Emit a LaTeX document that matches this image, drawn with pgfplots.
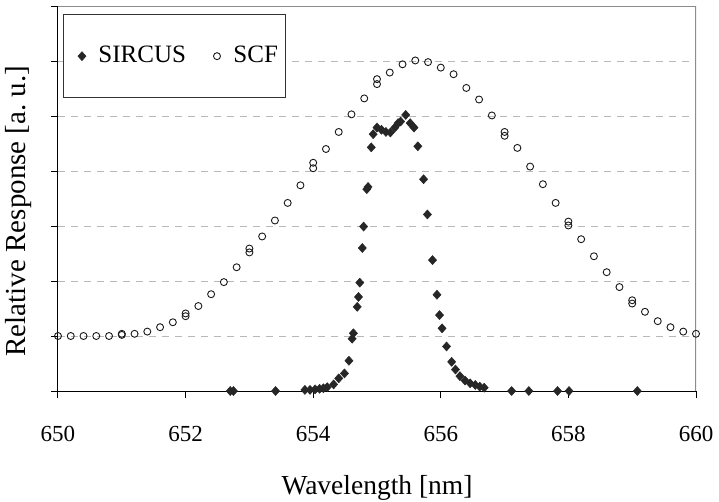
\documentclass[border=0pt]{standalone}
\usepackage{fontspec}
\setmainfont{Liberation Serif}
\usepackage{pgfplots}
\pgfplotsset{compat=1.18}
\begin{document}
\fontsize{24bp}{28bp}\selectfont
\begin{tikzpicture}
\useasboundingbox (-58bp,-111bp) rectangle (661bp,391bp);
\begin{axis}[
  at={(0,0)}, anchor=south west,
  width=638bp, height=385bp, scale only axis,
  xmin=650, xmax=660, ymin=0, ymax=7,
  xtick={650,652,...,660}, ytick={0,...,7}, yticklabels={},
  axis x line*=bottom, axis y line*=left,
  axis line style={-, black, line width=1bp},
  tick align=outside, major tick length=7bp,
  tick style={black, line width=1bp},
  /pgf/number format/assume math mode=true,
  /pgf/number format/1000 sep={},
  xticklabel style={font=\fontsize{23bp}{26bp}\selectfont, anchor=center, yshift=-36bp},
  ymajorgrids,
  major grid style={black!28, dash pattern=on 7bp off 6bp, line width=1bp},
  xlabel={Wavelength [nm]},
  ylabel={Relative Response [a.\ u.]},
  every axis x label/.style={at={(axis description cs:0.5,-0.252)}, anchor=center, font=\fontsize{27.5bp}{30bp}\selectfont},
  every axis y label/.style={at={(axis description cs:-0.0619,0.4675)}, anchor=center, rotate=90, font=\fontsize{29bp}{32bp}\selectfont},
  legend style={at={(axis description cs:0.0078,0.979)}, anchor=north west,
    draw=black!80, line width=1bp, font=\fontsize{25bp}{28bp}\selectfont,
    inner xsep=6bp, inner ysep=29.5bp,
    /tikz/every even column/.append style={column sep=16.5bp}},
  legend columns=2,
  legend cell align=left,
  legend image code/.code={\path (-4bp,0bp) (22bp,0bp); \path[#1] plot coordinates {(8bp,0bp)};},
]
\addplot[only marks, mark=diamond*, mark size=4.5bp, mark options={xscale=1.2, fill=black!85, draw=black!85, line width=0.5bp}]
coordinates {
(652.70,0) (652.75,0) (653.41,0) (653.87,0.02) (653.95,0.02) (654.03,0.03)
(654.10,0.04) (654.16,0.05) (654.22,0.07) (654.32,0.12) (654.40,0.23) (654.49,0.32)
(654.56,0.55) (654.61,0.95) (654.63,1.05) (654.69,1.53) (654.71,1.71) (654.73,1.97)
(654.77,2.60) (654.79,2.99) (654.84,3.67) (654.86,3.71) (654.91,4.43) (654.94,4.67)
(655.00,4.79) (655.07,4.75) (655.14,4.71) (655.21,4.70) (655.28,4.79) (655.33,4.87)
(655.37,4.90) (655.45,5.02) (655.52,4.87) (655.58,4.79) (655.64,4.45) (655.73,3.85)
(655.79,3.21) (655.87,2.38) (655.94,1.75) (655.98,1.38) (656.02,1.14) (656.09,0.81)
(656.17,0.53) (656.23,0.39) (656.30,0.27) (656.38,0.19) (656.46,0.14) (656.54,0.11)
(656.61,0.08) (656.68,0.06) (657.11,0) (657.38,0) (657.83,0) (658.01,0) (659.08,0)
};
\addlegendentry{SIRCUS}
\addplot[only marks, mark=o, mark size=3.5bp, mark options={draw=black!90, line width=0.9bp}]
coordinates {
(650.0,1.0) (650.2,1.0) (650.4,1.0) (650.6,1.0) (650.8,1.0)
(651.0,1.02) (651.0,1.04) (651.2,1.04) (651.4,1.08) (651.6,1.16) (651.8,1.25)
(652.0,1.36) (652.0,1.41) (652.2,1.545) (652.4,1.76) (652.6,1.98) (652.8,2.25)
(653.0,2.52) (653.0,2.59) (653.2,2.81) (653.4,3.10) (653.6,3.42) (653.8,3.74)
(654.0,4.05) (654.0,4.15) (654.2,4.40) (654.4,4.71) (654.6,5.03) (654.8,5.32)
(655.0,5.58) (655.0,5.67) (655.2,5.79) (655.4,5.94) (655.6,6.01) (655.8,5.98)
(656.0,5.88) (656.2,5.76) (656.4,5.51) (656.6,5.30) (656.8,5.01)
(657.0,4.64) (657.0,4.71) (657.2,4.42) (657.4,4.08) (657.6,3.76) (657.8,3.42)
(658.0,3.01) (658.0,3.08) (658.2,2.76) (658.4,2.45) (658.6,2.16) (658.8,1.89)
(659.0,1.59) (659.0,1.65) (659.2,1.44) (659.4,1.27) (659.6,1.16) (659.8,1.08)
(660.0,1.04)
};
\addlegendentry{SCF}
\draw[black!45, line width=1.5bp] (rel axis cs:0,1) -- (rel axis cs:1,1) -- (rel axis cs:1,0);
\end{axis}
\end{tikzpicture}
\end{document}
